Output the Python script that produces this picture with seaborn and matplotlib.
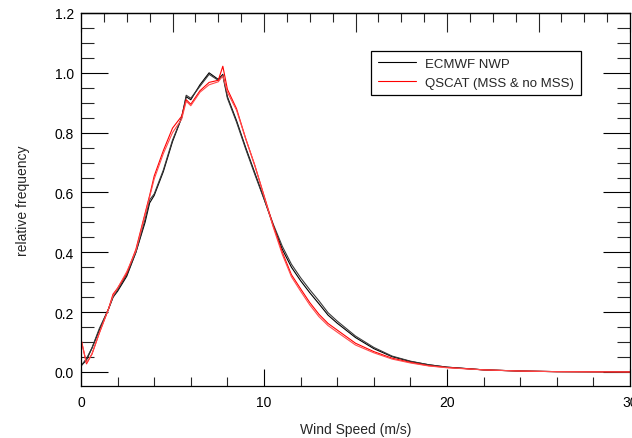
import numpy as np
import pandas as pd
import matplotlib
matplotlib.use("Agg")
import matplotlib.pyplot as plt
import seaborn as sns
from matplotlib.ticker import MultipleLocator, FormatStrFormatter
from matplotlib.lines import Line2D

# Wind speed (m/s)
wind_speed = [0.0, 0.3, 0.6, 1.0, 1.5, 1.75, 2.0, 2.5, 3.0, 3.5, 3.75, 4.0, 4.5,
              5.0, 5.5, 5.75, 6.0, 6.5, 7.0, 7.5, 7.75, 8.0, 8.5, 9.0, 9.5,
              10.0, 10.5, 11.0, 11.5, 12.0, 12.5, 13.0, 13.5, 14.0, 15.0, 16.0,
              17.0, 18.0, 19.0, 20.0, 22.0, 24.0, 26.0, 28.0, 30.0]

ecmwf_a = [0.02, 0.04, 0.08, 0.14, 0.21, 0.25, 0.27, 0.32, 0.40, 0.50, 0.565, 0.59, 0.67,
           0.77, 0.85, 0.92, 0.91, 0.96, 1.00, 0.978, 0.995, 0.92, 0.84, 0.75, 0.665,
           0.58, 0.49, 0.41, 0.35, 0.305, 0.265, 0.228, 0.19, 0.163, 0.115, 0.078,
           0.051, 0.035, 0.024, 0.016, 0.007, 0.003, 0.001, 0.0005, 0.0]

ecmwf_b = [0.02, 0.045, 0.08, 0.145, 0.21, 0.25, 0.275, 0.325, 0.40, 0.51, 0.575, 0.595, 0.675,
           0.775, 0.85, 0.925, 0.915, 0.955, 0.995, 0.975, 0.99, 0.915, 0.835, 0.745, 0.66,
           0.578, 0.495, 0.42, 0.36, 0.315, 0.275, 0.238, 0.198, 0.17, 0.12, 0.082,
           0.053, 0.036, 0.024, 0.016, 0.007, 0.003, 0.001, 0.0005, 0.0]

qscat_mss = [0.11, 0.027, 0.06, 0.13, 0.21, 0.26, 0.28, 0.33, 0.41, 0.53, 0.59, 0.655, 0.74,
             0.815, 0.855, 0.91, 0.895, 0.94, 0.968, 0.975, 1.022, 0.945, 0.88, 0.78, 0.69,
             0.59, 0.49, 0.40, 0.325, 0.278, 0.232, 0.193, 0.162, 0.14, 0.096, 0.068,
             0.046, 0.032, 0.021, 0.015, 0.007, 0.003, 0.001, 0.0005, 0.0]

qscat_nomss = [0.11, 0.03, 0.06, 0.13, 0.21, 0.255, 0.28, 0.335, 0.405, 0.525, 0.585, 0.645, 0.73,
               0.80, 0.845, 0.905, 0.89, 0.935, 0.96, 0.97, 0.99, 0.935, 0.875, 0.78, 0.69,
               0.588, 0.485, 0.393, 0.318, 0.27, 0.224, 0.185, 0.155, 0.133, 0.09, 0.064,
               0.043, 0.030, 0.020, 0.014, 0.007, 0.003, 0.001, 0.0005, 0.0]

series_names = ["ECMWF a", "ECMWF b", "QSCAT MSS", "QSCAT no MSS"]
series_values = [ecmwf_a, ecmwf_b, qscat_mss, qscat_nomss]
series_colors = ["#000000", "#3a3a3a", "#ff0000", "#ff4a4a"]

legend_labels = ["ECMWF NWP", "QSCAT (MSS & no MSS)"]
y_ticks = [0.0, 0.2, 0.4, 0.6, 0.8, 1.0, 1.2]
x_ticks = [0, 10, 20, 30]

sns.set_style("ticks")
plt.rcParams["font.family"] = ["Liberation Sans", "DejaVu Sans"]

df = pd.concat(
    [pd.DataFrame({"speed": wind_speed, "freq": v, "series": n})
     for n, v in zip(series_names, series_values)],
    ignore_index=True)

fig = plt.figure(figsize=(6.32, 4.39), dpi=100)
ax = fig.add_axes([81 / 632, 1 - 387 / 439, 549 / 632, 373 / 439])

for n, c in zip(series_names, series_colors):
    sns.lineplot(data=df[df["series"] == n], x="speed", y="freq", color=c,
                 linewidth=0.8, ax=ax, legend=False)

ax.set_xlim(0, 30)
ax.set_ylim(-0.047, 1.2)

for s in ax.spines.values():
    s.set_visible(True)
    s.set_color("black")
    s.set_linewidth(0.9)

ax.set_xticks(x_ticks)
ax.xaxis.set_minor_locator(MultipleLocator(2))
ax.set_yticks(y_ticks)
ax.yaxis.set_minor_locator(MultipleLocator(0.05))
ax.yaxis.set_major_formatter(FormatStrFormatter("%.1f"))

ax.tick_params(axis="x", which="major", direction="in", length=12.2, width=0.8,
               pad=6.5, labelsize=10, bottom=True, top=False, colors="black")
ax.tick_params(axis="x", which="minor", direction="in", length=6.3, width=0.8,
               bottom=True, top=False)
ax.tick_params(axis="y", which="major", direction="in", length=19.4, width=0.8,
               pad=5, labelsize=10, left=True, right=True, colors="black")
ax.tick_params(axis="y", which="minor", direction="in", length=9.4, width=0.8,
               left=True, right=True)

top = ax.secondary_xaxis("top")
top.set_xticks([0, 5, 10, 15, 20, 25, 30])
top.xaxis.set_minor_locator(MultipleLocator(1.25))
top.tick_params(axis="x", which="major", direction="in", length=13.7, width=0.8,
                labeltop=False)
top.tick_params(axis="x", which="minor", direction="in", length=6.5, width=0.8)
top.spines["top"].set_linewidth(0.9)

ax.set_xlabel("Wind Speed (m/s)", fontsize=10, labelpad=9)
ax.set_ylabel("relative frequency", fontsize=10, labelpad=18)

handles = [Line2D([], [], color="#000000", linewidth=0.8),
           Line2D([], [], color="#ff0000", linewidth=0.8)]
leg = ax.legend(handles, legend_labels, loc="upper left",
                bbox_to_anchor=((371 - 81) / 549, (387 - 52) / 373),
                borderaxespad=0, fontsize=9.5, handlelength=2.9,
                handletextpad=0.7, labelspacing=0.5, borderpad=0.5,
                fancybox=False, framealpha=1, edgecolor="black")
leg.get_frame().set_linewidth(0.9)

fig.savefig("out.png", dpi=100)
